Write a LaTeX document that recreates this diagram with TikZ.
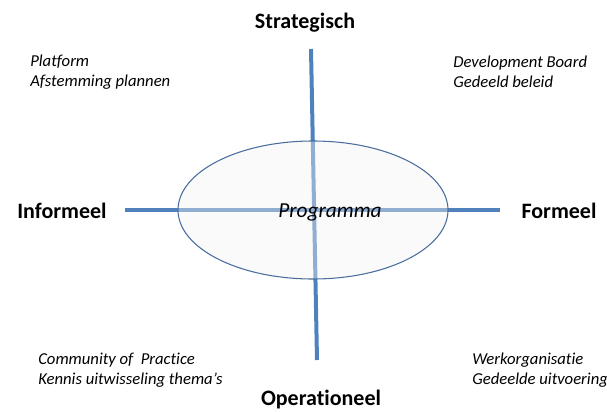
\documentclass[tikz,border=0pt]{standalone}
\usepackage{fontspec}
\setmainfont{Carlito}[Ligatures=NoCommon]
\usepackage{tikz}
\usetikzlibrary{positioning,calc,shapes.geometric}
\definecolor{axisblue}{HTML}{4F81BD}
\definecolor{rimblue}{HTML}{4A6E9E}
\definecolor{hubfill}{HTML}{F2F2F2}
\tikzset{
  axisline/.style={line width=3pt, color=axisblue},
  pole/.style={font=\fontsize{16.5}{19}\selectfont\bfseries, inner sep=0pt},
  quadnote/.style={font=\fontsize{12.5}{15}\selectfont\itshape, align=left, anchor=west, inner sep=0pt},
  hub/.style={ellipse, draw=rimblue, line width=0.8pt, fill=hubfill, fill opacity=0.4,
    minimum width=202.5pt, minimum height=103.5pt, inner sep=0pt}
}

\begin{document}
\begin{tikzpicture}[x=0.75pt, y=-0.75pt]
  \useasboundingbox (0,0) rectangle (607,411);
  % axes
  \coordinate (vtop) at (311,49);
  \coordinate (vbot) at (317,360);
  \coordinate (hleft) at (125,210);
  \coordinate (hright) at (500,210);
  \draw[axisline] (vtop) -- (vbot);
  \draw[axisline] (hleft) -- (hright);
  \node[hub] (prog) at (313,210) {};
  \node[font=\fontsize{16}{19}\selectfont\itshape, inner sep=0pt] (progtxt) at (330,212) {Programma};
  % poles
  \node[pole] (str) at (305,23) {Strategisch};
  \node[pole] (inf) at (62,211) {Informeel};
  \node[pole] (frm) at (559,211) {Formeel};
  \node[pole] (ops) at (321,400) {Operationeel};
  % quadrants
  \node[quadnote] (nw) at (30,72) {Platform\\Afstemming plannen};
  \node[quadnote] (ne) at (453,72) {Development Board\\Gedeeld beleid};
  \node[quadnote] (sw) at (38,370) {Community of\ \ Practice\\Kennis uitwisseling thema's};
  \node[quadnote] (se) at (472,370) {Werkorganisatie\\Gedeelde uitvoering};
\end{tikzpicture}
\end{document}
